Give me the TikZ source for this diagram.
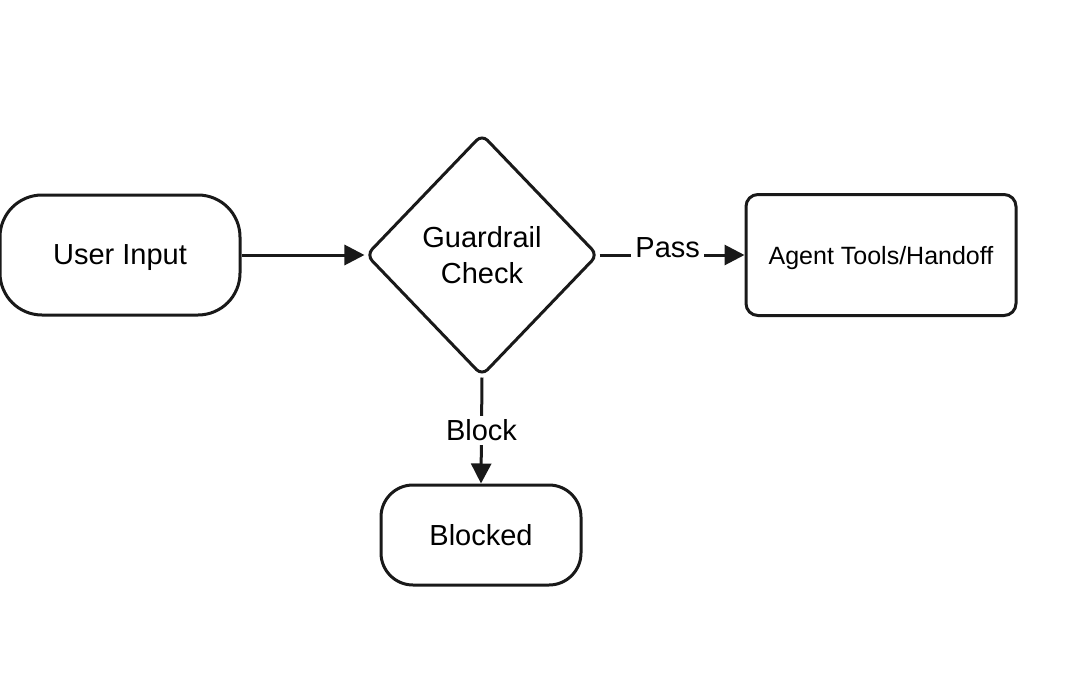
\documentclass[tikz,border=0pt]{standalone}
\usepackage{fontspec}
\setmainfont{Liberation Sans}
\usetikzlibrary{shapes.geometric,arrows.meta}
\begin{document}
\begin{tikzpicture}[x=1pt,y=-1pt,
  box/.style={draw=black!90,line width=3pt,rounded corners=#1,font=\fontsize{29}{34}\selectfont,inner sep=0pt,text depth=-4pt},
  arr/.style={line width=3pt,draw=black!90,-{Triangle[length=20pt,width=20pt]}},
  lab/.style={fill=white,font=\fontsize{29}{34}\selectfont,inner sep=4pt}]
\useasboundingbox (0,0) rectangle (1080,675);
\node[box=42pt,minimum width=240pt,minimum height=120pt] (ui) at (120,255) {User Input};
\node[draw=black!90,line width=3pt,diamond,rounded corners=8pt,minimum width=232pt,minimum height=242pt,inner sep=0pt,align=center,font=\fontsize{29}{36}\selectfont] (gc) at (482,255) {Guardrail\\Check};
\node[box=12pt,minimum width=270pt,minimum height=121pt,font=\fontsize{25}{30}\selectfont] (ag) at (881,255) {Agent Tools/Handoff};
\node[box=32pt,minimum width=200pt,minimum height=100pt] (bl) at (481,535) {Blocked};
\draw[arr] (ui) -- (gc);
\draw[arr] (gc) -- node[lab,pos=0.47,yshift=7pt]{Pass} (ag);
\draw[arr] (gc.south) -- node[lab,pos=0.5]{Block} (bl.north);
\end{tikzpicture}
\end{document}
